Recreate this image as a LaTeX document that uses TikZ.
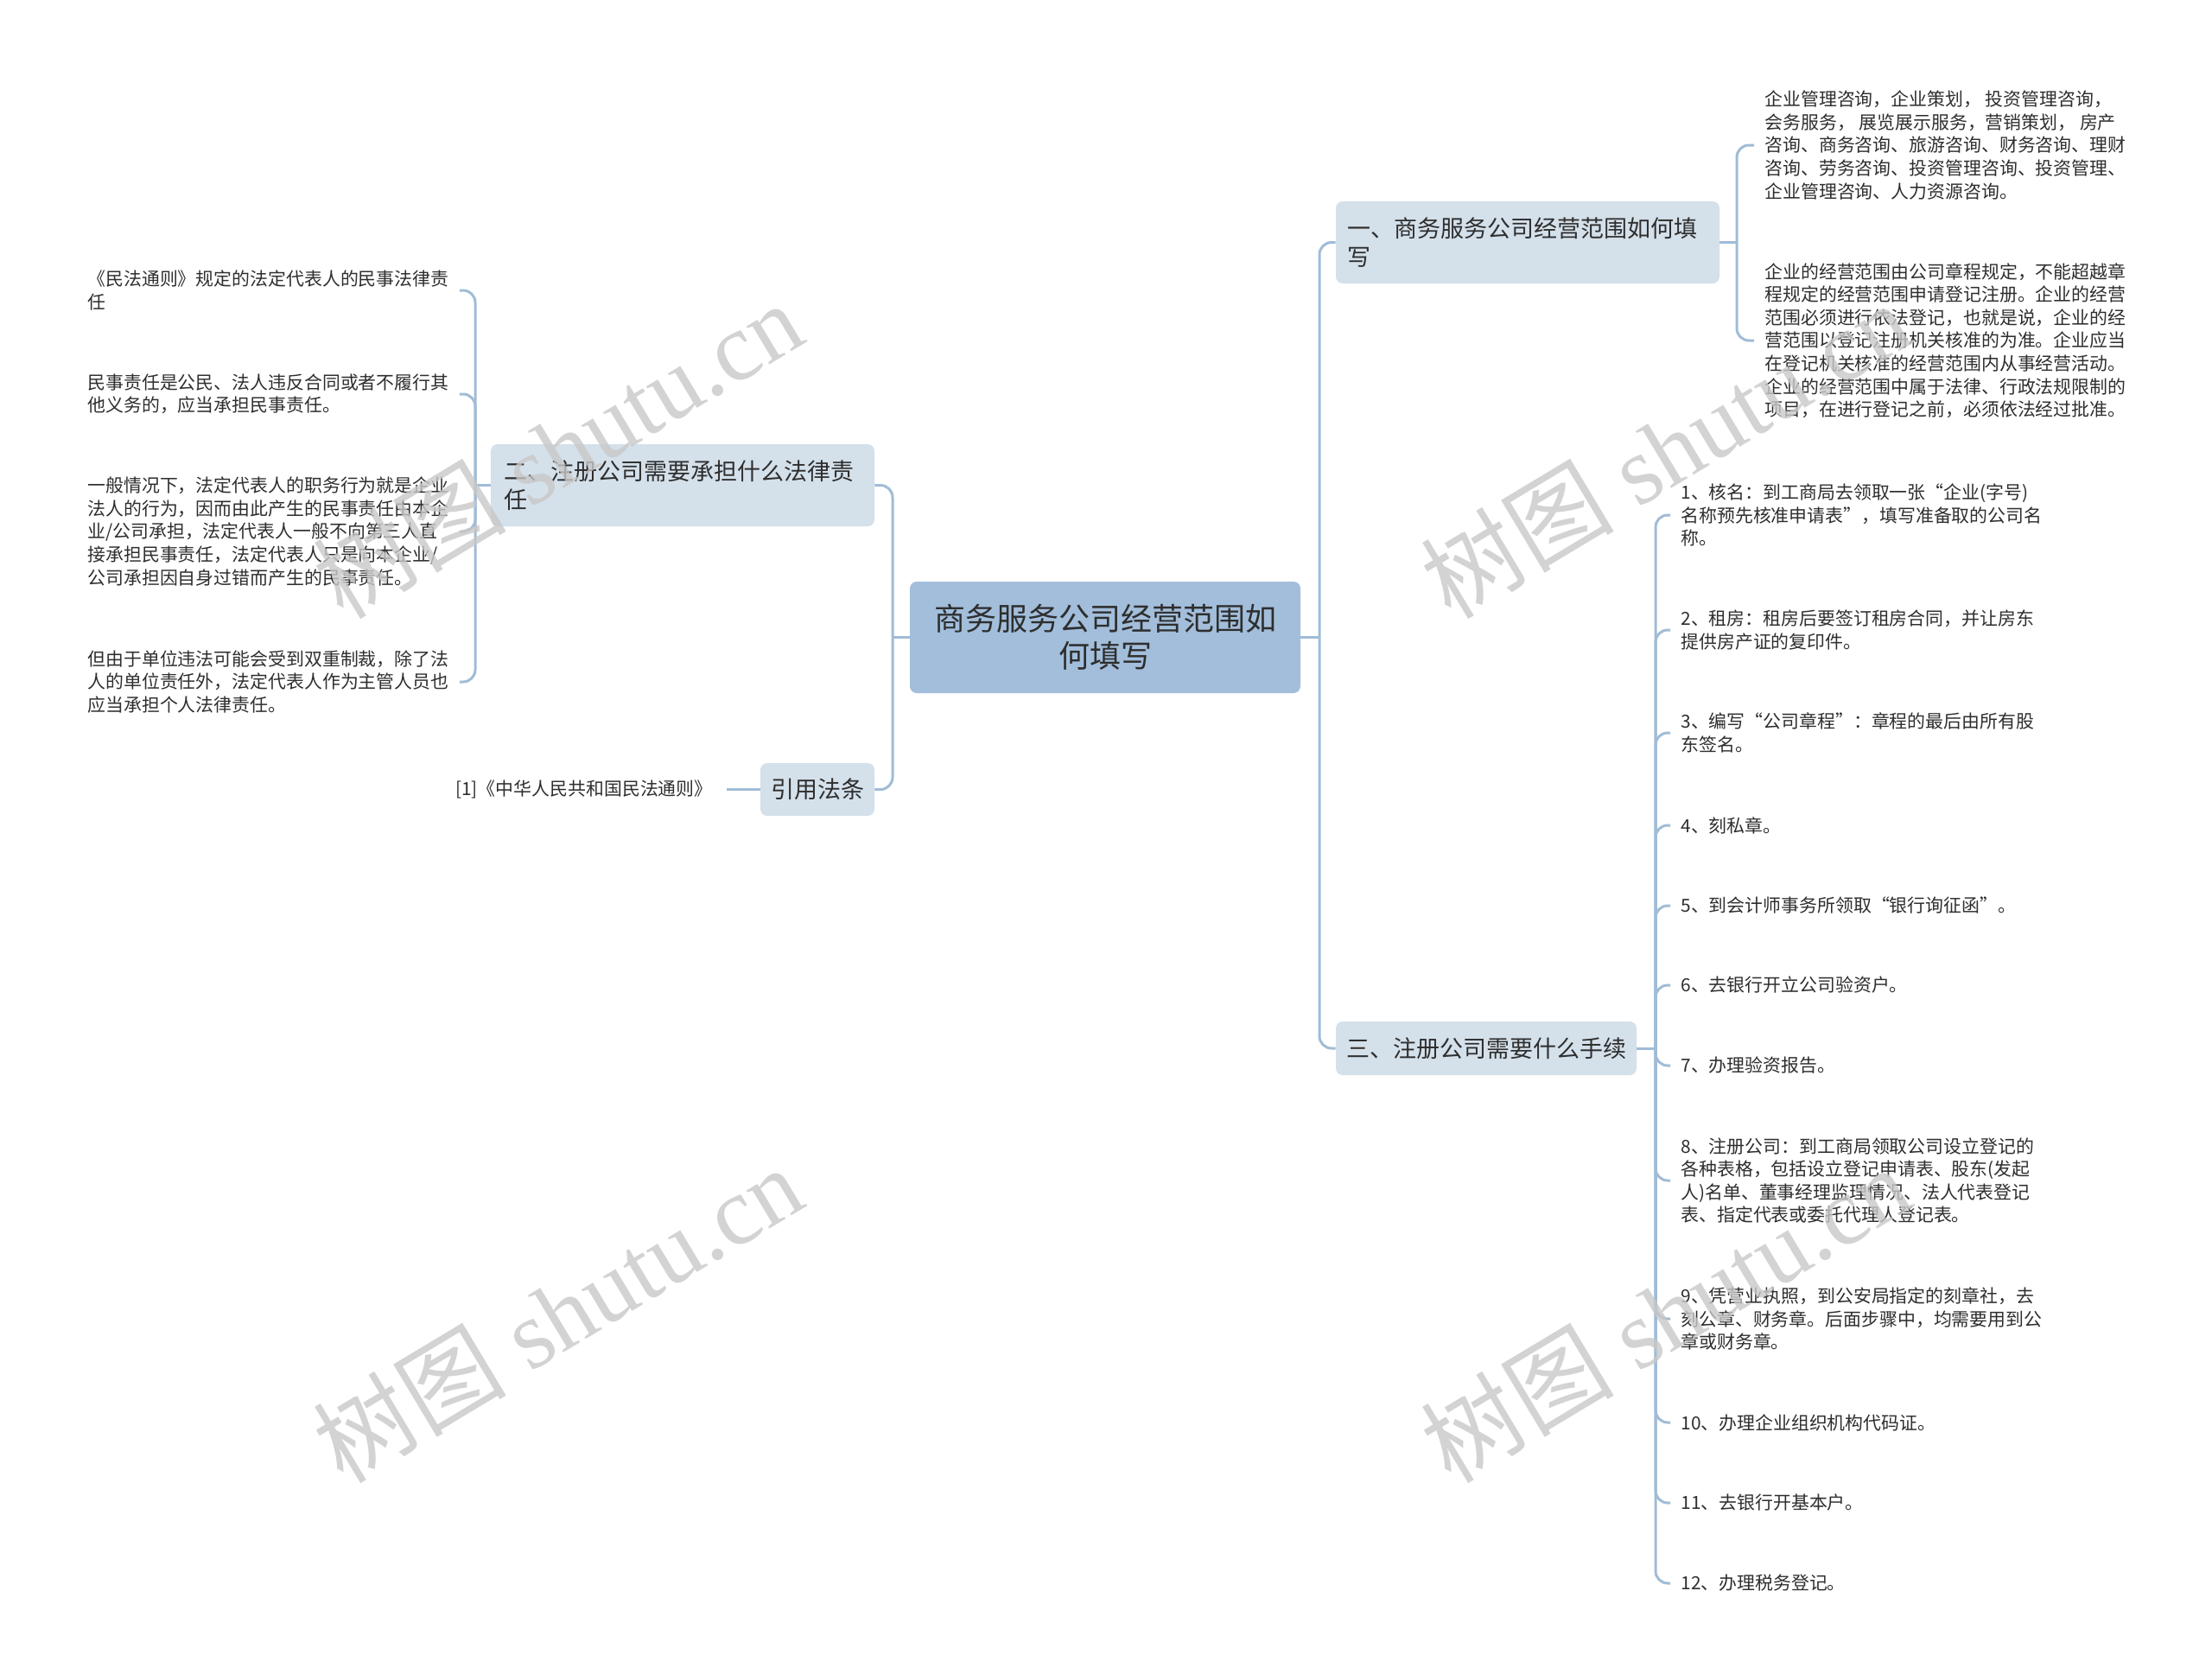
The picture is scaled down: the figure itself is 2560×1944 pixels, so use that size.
\documentclass[tikz,border=0pt]{standalone}
\usepackage{fontspec}
\setmainfont{Noto Sans CJK SC}
\newfontfamily\wmlatin{Liberation Serif}
\definecolor{conncol}{HTML}{A0BCD6}
\definecolor{rootfill}{HTML}{A2BEDB}
\definecolor{brfill}{HTML}{D4E0EA}
\definecolor{txt}{HTML}{2E2E2E}
\definecolor{wmcol}{HTML}{C8C8C8}
\begin{document}
\begin{tikzpicture}[x=0.5pt,y=-0.5pt,
  conn/.style={draw=conncol, line width=1.5pt},
  elbow/.style={conn, rounded corners=7pt},
  rootbox/.style={fill=rootfill, rounded corners=4pt, minimum width=226pt, minimum height=64.5pt, align=center, text=txt, font=\fontsize{18pt}{21.5pt}\selectfont, inner sep=0pt},
  brbox/.style={fill=brfill, rounded corners=4pt, text=txt, font=\fontsize{13.5pt}{16.5pt}\selectfont, inner ysep=0pt},
  leafr/.style={text=txt, font=\fontsize{10.45pt}{13.3pt}\selectfont, align=left, inner ysep=2pt, inner xsep=6pt, anchor=west},
  leafl/.style={text=txt, font=\fontsize{10.45pt}{13.3pt}\selectfont, align=left, text width=210pt, inner ysep=2pt, inner xsep=5pt, anchor=west},
  wmark/.style={text=wmcol, text opacity=0.8, rotate=31, inner sep=0pt, font=\fontsize{56pt}{56pt}\selectfont}
]
\useasboundingbox (0,0) rectangle (2560,1944);
\fill[white] (0,0) rectangle (2560,1944);

% root and branches
\node[rootbox] (root) at (1279,737.5) {商务服务公司经营范围如\\何填写};
\node[brbox, minimum width=222pt, minimum height=47.5pt, text width=209pt, inner xsep=6.5pt, align=left] (b1) at (1768,280.5) {一、商务服务公司经营范围如何填\\写};
\node[brbox, minimum width=222pt, minimum height=47.5pt, text width=207pt, inner xsep=7.5pt, align=left] (b2) at (790,561.5) {二、注册公司需要承担什么法律责\\任};
\node[brbox, minimum width=174pt, minimum height=31pt, inner xsep=4pt, align=center] (b3) at (1720,1213) {三、注册公司需要什么手续};
\node[brbox, minimum width=66pt, minimum height=30.5pt, inner xsep=4pt, align=center] (ref) at (946,913.5) {引用法条};

% leaves of branch 1
\node[leafr] (r1a) at (2030,168) {企业管理咨询，企业策划， 投资管理咨询，\\会务服务， 展览展示服务，营销策划， 房产\\咨询、商务咨询、旅游咨询、财务咨询、理财\\咨询、劳务咨询、投资管理咨询、投资管理、\\企业管理咨询、人力资源咨询。};
\node[leafr] (r1b) at (2030,394) {企业的经营范围由公司章程规定，不能超越章\\程规定的经营范围申请登记注册。企业的经营\\范围必须进行依法登记，也就是说，企业的经\\营范围以登记注册机关核准的为准。企业应当\\在登记机关核准的经营范围内从事经营活动。\\企业的经营范围中属于法律、行政法规限制的\\项目，在进行登记之前，必须依法经过批准。};

% leaves of branch 2
\node[leafl] (l1) at (91,336) {《民法通则》规定的法定代表人的民事法律责\\任};
\node[leafl] (l2) at (91,456) {民事责任是公民、法人违反合同或者不履行其\\他义务的，应当承担民事责任。};
\node[leafl] (l3) at (91,615) {一般情况下，法定代表人的职务行为就是企业\\法人的行为，因而由此产生的民事责任由本企\\业/公司承担，法定代表人一般不向第三人直\\接承担民事责任，法定代表人只是向本企业/\\公司承担因自身过错而产生的民事责任。};
\node[leafl] (l4) at (91,789) {但由于单位违法可能会受到双重制裁，除了法\\人的单位责任外，法定代表人作为主管人员也\\应当承担个人法律责任。};

% reference leaf
\node[text=txt, font=\fontsize{10.45pt}{13.3pt}\selectfont, inner xsep=8pt, inner ysep=2pt, anchor=east] (refleaf) at (841,913.5) {[1]《中华人民共和国民法通则》};

% leaves of branch 3
\node[leafr] (s1) at (1933,596) {1、核名：到工商局去领取一张“企业(字号)\\名称预先核准申请表”，填写准备取的公司名\\称。};
\node[leafr] (s2) at (1933,729) {2、租房：租房后要签订租房合同，并让房东\\提供房产证的复印件。};
\node[leafr] (s3) at (1933,848) {3、编写“公司章程”：章程的最后由所有股\\东签名。};
\node[leafr] (s4) at (1933,955) {4、刻私章。};
\node[leafr] (s5) at (1933,1048) {5、到会计师事务所领取“银行询征函”。};
\node[leafr] (s6) at (1933,1140) {6、去银行开立公司验资户。};
\node[leafr] (s7) at (1933,1233) {7、办理验资报告。};
\node[leafr] (s8) at (1933,1366) {8、注册公司：到工商局领取公司设立登记的\\各种表格，包括设立登记申请表、股东(发起\\人)名单、董事经理监理情况、法人代表登记\\表、指定代表或委托代理人登记表。};
\node[leafr] (s9) at (1933,1526) {9、凭营业执照，到公安局指定的刻章社，去\\刻公章、财务章。后面步骤中，均需要用到公\\章或财务章。};
\node[leafr] (s10) at (1933,1646) {10、办理企业组织机构代码证。};
\node[leafr] (s11) at (1933,1739) {11、去银行开基本户。};
\node[leafr] (s12) at (1933,1832) {12、办理税务登记。};

% junction points
\coordinate (rR) at (1527,737.5);
\coordinate (rL) at (1033,737.5);
\coordinate (b1R) at (2010,280.5);
\coordinate (b2L) at (550,561.5);
\coordinate (b3R) at (1916,1213);

% connectors
\draw[conn] (root.east) -- (rR);
\draw[elbow] (rR) |- (b1.west);
\draw[elbow] (rR) |- (b3.west);
\draw[conn] (root.west) -- (rL);
\draw[elbow] (rL) |- (b2.east);
\draw[elbow] (rL) |- (ref.east);
\draw[conn] (ref.west) -- (refleaf.east);

\draw[conn] (b1.east) -- (b1R);
\foreach \n in {r1a,r1b} { \draw[elbow] (b1R) |- (\n.west); }

\draw[conn] (b2.west) -- (b2L);
\foreach \n in {l1,l2,l3,l4} { \draw[elbow] (b2L) |- (\n.east); }

\draw[conn] (b3.east) -- (b3R);
\foreach \n in {s1,s2,s3,s4,s5,s6,s7,s8,s9,s10,s11,s12} { \draw[elbow] (b3R) |- (\n.west); }

% watermarks
\node[wmark] (w1) at (645,520) {树图\hspace{0.25em}{\wmlatin shutu.cn}};
\node[wmark] (w2) at (645,1520) {树图\hspace{0.25em}{\wmlatin shutu.cn}};
\node[wmark] (w3) at (1927,520) {树图\hspace{0.25em}{\wmlatin shutu.cn}};
\node[wmark] (w4) at (1927,1520) {树图\hspace{0.25em}{\wmlatin shutu.cn}};
\end{tikzpicture}
\end{document}
